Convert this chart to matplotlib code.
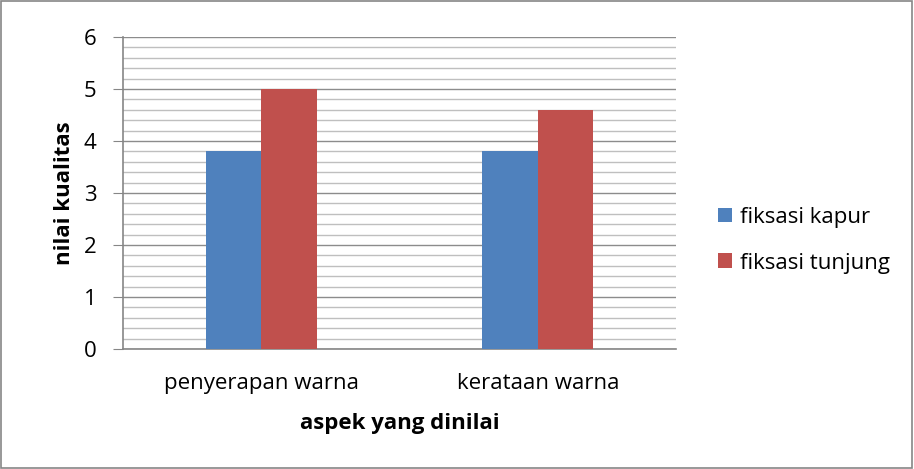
import numpy as np
import matplotlib.pyplot as plt
from matplotlib.ticker import MultipleLocator
from matplotlib.patches import Rectangle

plt.rcParams['font.family'] = ['Open Sans', 'DejaVu Sans']

categories = ['penyerapan warna', 'kerataan warna']
kapur = [3.8, 3.8]
tunjung = [5.0, 4.6]
series_names = ['fiksasi kapur', 'fiksasi tunjung']
colors = ['#4f81bd', '#c0504d']

fig = plt.figure(figsize=(9.14, 4.69), dpi=100)
ax = fig.add_axes([0.1346, 0.2559, 0.605, 0.6652])

x = np.arange(len(categories))
w = 0.2
ax.bar(x - w / 2, kapur, w, color=colors[0], label=series_names[0], zorder=3)
ax.bar(x + w / 2, tunjung, w, color=colors[1], label=series_names[1], zorder=3)

ax.set_xlim(-0.5, len(categories) - 0.5)
ax.set_ylim(0, 6)
ax.yaxis.set_major_locator(MultipleLocator(1))
ax.yaxis.set_minor_locator(MultipleLocator(0.2))
ax.grid(which='major', axis='y', color='#8c8c8c', linewidth=1.0, zorder=0)
ax.grid(which='minor', axis='y', color='#bfbfbf', linewidth=1.0, zorder=0)
ax.set_axisbelow(True)

ax.set_xticks(x)
ax.set_xticklabels(categories, fontsize=16)
ax.tick_params(axis='x', length=0, pad=17)
ax.tick_params(axis='y', which='major', length=7, color='#868686', labelsize=16, pad=12)
ax.tick_params(axis='y', which='minor', length=0)

for side in ['top', 'right']:
    ax.spines[side].set_visible(False)
for side in ['left', 'bottom']:
    ax.spines[side].set_color('#868686')
    ax.spines[side].set_linewidth(1.2)

ax.set_ylabel('nilai kualitas', fontsize=16, fontweight='bold', va='center')
ax.yaxis.set_label_coords(-0.105, 0.5)
ax.set_xlabel('aspek yang dinilai', fontsize=16, fontweight='bold', va='center')
ax.xaxis.set_label_coords(0.5, -0.24)

fig.legend(loc='center left', bbox_to_anchor=(0.7735, 0.488), frameon=False,
           fontsize=16, borderpad=0, handlelength=0.63, handleheight=0.63,
           handletextpad=0.37, labelspacing=1.12)

fig.patches.append(Rectangle((0.001, 0.002), 0.997, 0.995, transform=fig.transFigure,
                             fill=False, edgecolor='#868686', linewidth=1.2))

fig.savefig('out.png', dpi=100)
